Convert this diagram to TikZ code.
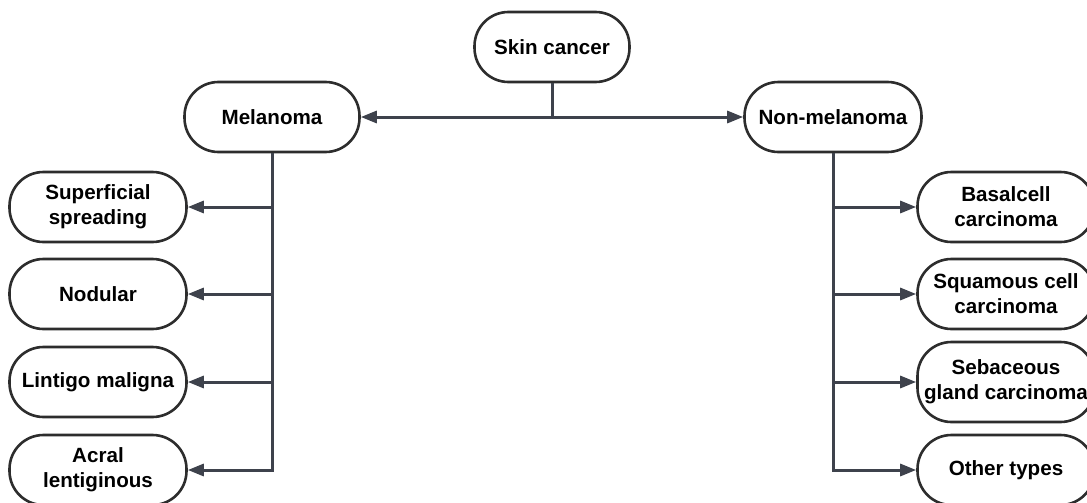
\documentclass[tikz,border=0pt]{standalone}
\usepackage{fontspec}
\setmainfont{Liberation Sans}
\usepackage{tikz}
\usetikzlibrary{
	arrows.meta,
	positioning
}
\definecolor{LineGray}{RGB}{62,66,76}
\definecolor{BoxGray}{RGB}{45,45,45}

\tikzset{
	pill/.style={draw=BoxGray,line width=1.3pt,fill=white,rounded corners=17pt,
		minimum width=88.5pt,minimum height=35pt,inner xsep=1pt,inner ysep=2pt,
		align=center,font=\fontsize{10.3}{12.5}\selectfont\bfseries},
	link/.style={draw=LineGray,line width=1.5pt,
		-{Triangle[length=8pt,width=6pt]}}
}

\begin{document}
\begin{tikzpicture}[x=0.5pt,y=-0.5pt]
		\useasboundingbox (0,0) rectangle (1087,503);
		
		% top
		\node[pill,minimum width=77.5pt] (skin) at (552,47) {Skin cancer};
		\node[pill,minimum width=87.5pt] (mel) at (272,117) {Melanoma};
		\node[pill] (nonmel) at (833,117) {Non-melanoma};
		
		% melanoma types
		\node[pill] (ss) at (98,207) {Superficial\\spreading};
		\node[pill] (nod) at (98,294) {Nodular};
		\node[pill] (lm) at (98,382) {Lintigo maligna};
		\node[pill] (al) at (98,470) {Acral\\lentiginous};
		
		% non-melanoma types
		\node[pill] (bcc) at (1006,207) {Basalcell\\carcinoma};
		\node[pill] (scc) at (1006,294) {Squamous cell\\carcinoma};
		\node[pill,minimum height=40pt] (sgc) at (1006,382) {Sebaceous\\gland carcinoma};
		\node[pill] (oth) at (1006,470) {Other types};
		
		% connectors
		\draw[link] (skin.south) |- (mel.east);
		\draw[link] (skin.south) |- (nonmel.west);
		
		\foreach \n in {ss,nod,lm,al}
			\draw[link] (mel.south) |- (\n.east);
		
		\foreach \n in {bcc,scc,sgc,oth}
			\draw[link] (nonmel.south) |- (\n.west);
	\end{tikzpicture}
\end{document}
